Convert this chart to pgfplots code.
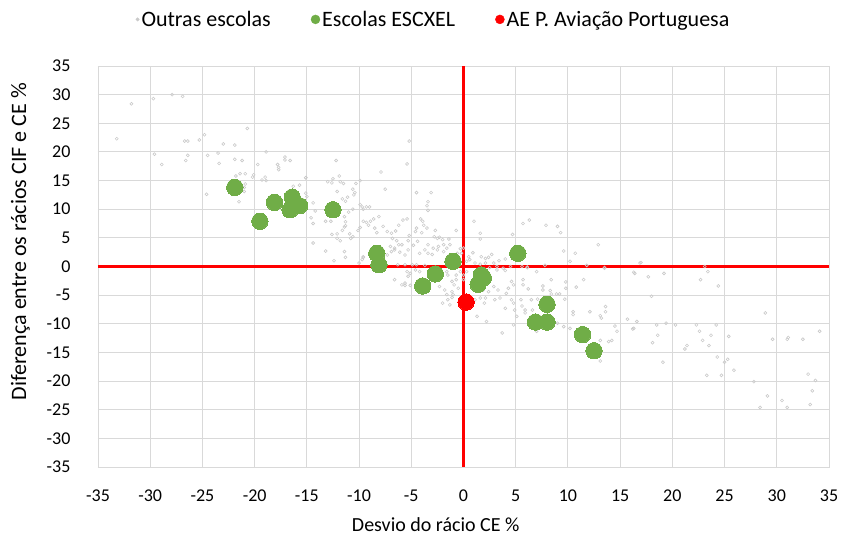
\documentclass[border=0pt]{standalone}
\usepackage{pgfplots}
\pgfplotsset{compat=1.18}
\usepackage{fontspec}
\setmainfont{Carlito}
\definecolor{gridc}{HTML}{D9D9D9}
\definecolor{greyp}{HTML}{CACACA}
\definecolor{escg}{HTML}{70AD47}
\definecolor{avred}{HTML}{FF0000}
\begin{document}
\begin{tikzpicture}
\begin{axis}[
  scale only axis, width=731pt, height=401pt,
  xmin=-35, xmax=35, ymin=-35, ymax=35,
  xtick={-35,-30,...,35}, ytick={-35,-30,...,35},
  grid=major, major grid style={draw=gridc, line width=0.9pt},
  axis line style={draw=gridc, line width=0.9pt},
  tick style={draw=none},
  tick label style={font=\fontsize{18}{21}\selectfont, text=black},
  /pgf/number format/assume math mode=true,
  xlabel={Desvio do rácio CE \%},
  ylabel={Diferença entre os rácios CIF e CE \%},
  every axis x label/.style={at={(axis description cs:0.462,-0.145)}, anchor=center, font=\fontsize{20}{24}\selectfont},
  every axis y label/.style={at={(axis description cs:-0.106,0.562)}, anchor=center, rotate=90, font=\fontsize{22}{26}\selectfont},
  xticklabel style={yshift=-19pt},
  yticklabel style={xshift=-24pt},
  legend columns=3,
  legend style={draw=none, fill=none, at={(0.459,1.0)}, anchor=south, yshift=34pt,
    font=\fontsize{22}{26}\selectfont, /tikz/every even column/.append style={column sep=38pt}},
  legend cell align=left,
  clip=false,
]
\addplot[avred, line width=2.2pt, forget plot] coordinates {(-35,0) (35,0)};
\addplot[avred, line width=2.2pt, forget plot] coordinates {(0,-35) (0,35)};
\addplot[only marks, mark=o, mark size=1.5pt, greyp, line width=0.6pt,
  legend image code/.code={\fill[greyp] (0.15cm,0) circle (1.6pt);}] coordinates {
(-31.8,28.4) (-29.7,29.3) (-27.9,30.0) (-26.9,29.7) (-33.2,22.3) (-20.7,24.1) (-24.8,23.0) (-25.3,22.1)
(-26.7,21.9) (-26.4,21.9) (-23.0,21.4) (-21.9,21.2) (-18.9,20.0) (-29.6,19.6) (-28.9,17.8) (-26.4,19.4)
(-26.6,18.5) (-24.5,19.4) (-23.5,19.8) (-23.4,18.0) (-21.9,18.7) (-21.2,18.5) (-19.7,17.8) (-17.8,17.8)
(-17.7,17.3) (-17.7,16.9) (-17.1,19.1) (-17.1,18.6) (-16.6,18.5) (-21.8,15.8) (-21.4,16.2) (-20.9,16.2)
(-20.1,16.0) (-20.2,15.6) (-19.3,15.1) (-19.0,15.6) (-18.9,15.0) (-20.9,14.4) (-21.0,13.8) (-21.0,13.1)
(-24.6,12.6) (-21.5,11.3) (-15.7,14.2) (-16.3,14.0) (-15.1,15.5) (-15.1,12.8)
(-5.2,21.9) (-5.4,17.9) (-7.9,16.5) (-12.2,18.5) (-15.1,15.5) (-13.0,14.8) (-12.6,14.6) (-12.5,15.3)
(-11.9,15.8) (-11.5,14.5) (-11.8,14.8) (-10.3,14.5) (-9.9,15.0) (-10.6,13.5) (-10.4,12.9) (-10.5,12.5)
(-11.1,12.1) (-11.3,11.4) (-11.6,11.8) (-12.1,13.1) (-7.5,13.5) (-15.0,12.2) (-14.4,11.1) (-14.2,9.7)
(-14.6,8.5) (-14.4,7.5) (-9.9,10.8) (-9.7,10.4) (-9.6,10.0) (-9.3,10.4) (-9.0,10.4) (-10.6,10.0)
(-11.0,9.5) (-11.4,8.7) (-11.3,7.8) (-11.3,7.1) (-11.4,6.9) (-13.2,7.9) (-12.7,7.9) (-11.6,6.3)
(-12.1,5.7) (-12.6,5.6) (-12.1,4.9) (-11.8,4.5) (-10.9,5.7) (-10.8,4.9) (-10.6,5.2) (-10.1,6.3)
(-9.9,6.8) (-9.6,7.9) (-9.3,7.7) (-8.9,7.9) (-9.1,7.2) (-8.6,8.3) (-8.1,8.7) (-8.5,6.7)
(-8.3,5.9) (-7.7,7.0) (-7.3,6.1) (-6.9,5.8) (-6.5,6.2) (-6.2,7.2) (-5.8,8.1) (-5.4,8.3)
(-6.8,4.9) (-6.4,4.5) (-5.9,3.8) (-6.6,3.2) (-6.1,2.5) (-5.2,5.4) (-5.3,4.5) (-4.6,6.1)
(-4.5,6.7) (-4.1,8.3) (-3.9,7.9) (-3.8,7.2) (-3.5,6.7) (-4.0,5.9) (-4.4,4.4) (-4.8,3.7)
(-5.3,2.9) (-5.6,2.0) (-4.5,12.9) (-3.1,12.9) (-3.4,11.3) (-3.5,10.6) (-3.4,9.8)
(-2.7,6.3) (-2.8,5.2) (-2.5,4.9) (-2.3,5.1) (-2.0,4.7) (-1.9,3.8) (-2.4,3.5) (-2.9,3.2)
(-3.4,3.8) (-3.7,2.9) (-4.2,2.3) (-3.4,2.3) (-3.0,2.1) (-2.5,2.9) (-1.9,2.6) (-1.6,3.2)
(-1.3,3.8) (-1.4,4.8) (-0.7,6.3) (-0.3,3.1) (0.0,3.2) (-0.2,2.3) (-0.6,2.3)
(-9.6,1.7) (-9.7,1.2) (-8.0,2.3) (-7.7,1.4) (-7.3,2.0) (-6.9,2.6) (-6.6,2.9) (-6.2,3.8) (-7.0,3.5)
(-14.4,4.1) (-13.2,2.7) (-12.4,1.0) (-11.4,2.6) (-11.3,1.6) (-10.0,0.6) (-9.6,1.6)
(-6.3,0.3) (-5.6,0.3) (-4.9,0.3) (-4.5,0.3) (-3.7,0.2)
(-6.6,-2.3) (-5.9,-3.2) (-5.6,-2.9) (-5.6,-3.3) (-5.1,-3.3) (-5.4,-0.9) (-5.3,-1.7) (-5.1,-1.2)
(-4.6,-0.6) (-4.2,-0.9) (-2.3,-3.5) (-1.8,-4.1) (-1.6,-4.9) (-1.5,-5.8) (-2.0,-6.4) (-1.3,-6.7)
(-1.1,-4.4) (-0.9,-3.2) (-1.1,-2.6) (-0.7,-2.3) (-0.7,-1.5) (-1.5,-1.5) (-1.6,-0.9) (-0.3,-0.9)
(0.0,-1.5) (0.3,-0.9) (0.0,-2.3) (-0.5,-3.8) (-1.0,-4.9) (-1.1,-5.4)
(1.0,7.9) (1.6,5.8) (1.6,4.8) (4.7,5.6) (5.7,7.5) (6.3,8.1) (7.9,7.2) (9.0,7.0)
(9.3,5.9) (12.9,3.8) (9.6,2.7) (10.7,2.3) (10.2,0.9) (11.8,0.2) (13.5,-0.3) (7.8,0.2)
(6.1,-0.2) (5.6,0.0) (4.5,0.0) (4.0,1.3) (3.4,1.0) (2.7,2.1) (2.4,1.6) (2.1,1.4)
(1.7,1.7) (0.9,2.4) (0.5,1.7) (0.3,0.9) (2.9,0.6) (2.1,0.6) (1.6,0.4) (1.1,0.6)
(0.6,1.2) (3.2,0.0) (2.5,-0.2) (3.8,-0.3)
(7.0,-0.9) (6.1,-0.1) (4.0,-0.7) (3.2,-0.6) (13.5,-0.2) (16.3,-1.0)
(5.7,-2.3) (5.7,-3.2) (6.2,-3.9) (7.6,-3.4) (7.6,-4.1) (8.4,-2.3) (8.3,-4.2) (9.2,-4.8)
(9.8,-2.7) (9.8,-3.8) (10.8,-3.6) (11.5,-2.3) (9.7,-5.7) (8.9,-4.8) (8.4,-4.8)
(4.3,-3.8) (4.8,-3.2) (4.6,-2.6) (4.1,-4.7) (3.5,-5.5) (3.0,-5.8) (3.3,-4.1) (2.9,-3.5)
(2.4,-4.4) (1.9,-4.1) (1.6,-3.2) (2.1,-5.5) (2.0,-6.4) (1.6,-5.5) (1.1,-5.8) (1.3,-8.7)
(2.2,-9.6) (3.7,-11.6) (4.0,-7.3) (4.6,-5.8) (4.8,-6.4) (5.5,-5.8) (4.9,-7.6) (5.6,-6.9)
(5.9,-7.6) (6.5,-5.8) (7.1,-5.7) (6.6,-7.6) (5.9,-8.1) (5.1,-8.7) (4.8,-10.2) (6.5,-10.2)
(7.0,-11.3)
(10.5,-7.9) (10.5,-8.4) (12.1,-7.9) (13.1,-8.6) (13.6,-7.9) (13.6,-7.0) (13.2,-9.0) (14.5,-10.4)
(14.7,-11.3) (15.7,-9.2) (16.6,-9.6) (16.3,-10.8) (14.2,-12.9) (13.9,-13.1) (13.1,-12.9) (13.1,-16.5)
(12.7,-14.5) (10.2,-10.8) (9.6,-10.5) (9.0,-9.9) (16.9,0.6)
(17.0,0.7) (16.4,-1.2) (17.7,-1.8) (19.2,-1.2) (23.1,0.0) (23.4,-0.9) (22.7,-2.3) (24.4,-3.4)
(18.0,-5.2) (16.2,-10.9) (18.5,-10.2) (19.4,-9.9) (20.3,-10.2) (18.6,-12.0) (18.1,-13.3) (19.1,-16.7)
(22.3,-10.2) (24.2,-10.2) (22.6,-11.3) (23.7,-12.0) (22.9,-12.9) (23.5,-13.8) (21.4,-13.8) (21.2,-14.4)
(25.4,-12.2) (24.3,-15.8) (25.3,-16.2) (25.0,-16.7) (25.9,-18.1) (23.3,-19.0) (24.7,-19.0)
(28.9,-8.1) (29.6,-12.7) (31.0,-12.7) (31.1,-12.4) (32.5,-12.7) (34.1,-11.3)
(27.8,-20.1) (29.1,-22.6) (28.4,-24.6) (30.5,-23.4) (31.0,-24.6) (33.0,-18.8) (33.7,-19.9) (33.4,-21.7) (33.2,-24.1)
};
\addlegendentry{Outras escolas}
\addplot[only marks, mark=*, mark size=8.2pt, escg, mark options={draw=escg, fill=escg, line width=0pt},
  legend image code/.code={\fill[escg] (0.15cm,0) circle (4.5pt);}] coordinates {
(-21.9,13.8) (-19.5,7.9) (-18.1,11.2) (-16.4,12.1) (-16.6,9.9) (-15.7,10.6) (-12.5,9.9)
(-8.3,2.3) (-8.1,0.3) (-3.9,-3.4) (-2.7,-1.3) (-1.0,0.9) (1.4,-3.1) (1.7,-1.5) (1.9,-2.0)
(5.2,2.3) (8.0,-6.6) (6.9,-9.7) (8.0,-9.7) (11.4,-11.9) (12.5,-14.7)
};
\addlegendentry{Escolas ESCXEL}
\addplot[only marks, mark=*, mark size=8.2pt, avred, mark options={draw=avred, fill=avred, line width=0pt},
  legend image code/.code={\fill[avred] (0.15cm,0) circle (4.5pt);}] coordinates {(0.24,-6.2)};
\addlegendentry{AE P. Aviação Portuguesa}
\end{axis}
\path (current axis.south west) ++(-98pt,-71pt) coordinate (bbsw);
\path (current axis.north east) ++(14pt,66pt) coordinate (bbne);
\pgfresetboundingbox
\path[use as bounding box] (bbsw) rectangle (bbne);
\end{tikzpicture}
\end{document}
